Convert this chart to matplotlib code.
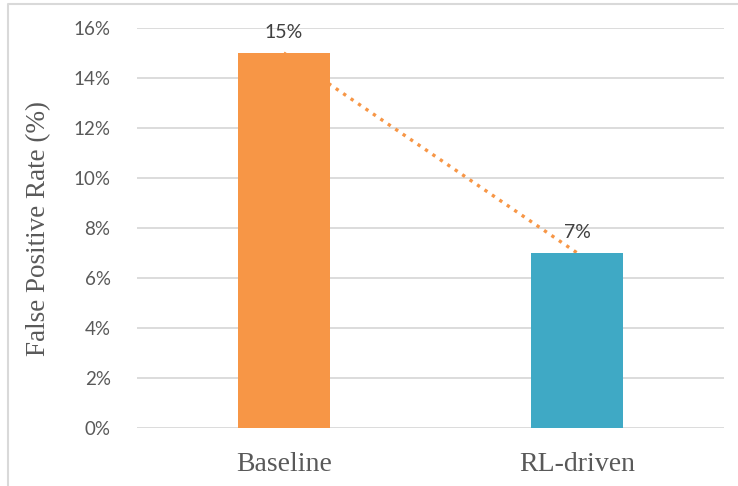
import matplotlib
matplotlib.use("Agg")
import matplotlib.pyplot as plt
from matplotlib.lines import Line2D
from matplotlib.ticker import FuncFormatter

# data
categories = ["Baseline", "RL-driven"]
fpr = [15, 7]  # percent
bar_colors = ["#F79646", "#3FA9C5"]
yticks = [0, 2, 4, 6, 8, 10, 12, 14, 16]

TICK_FONT = ["Lato", "DejaVu Sans"]
SERIF = ["Liberation Serif", "DejaVu Serif"]
GREY = "#595959"

fig = plt.figure(figsize=(7.38, 4.86), dpi=100)
ax = fig.add_axes([137/738, 1-428/486, (724-137)/738, (428-28)/486])

x = list(range(len(categories)))
ax.plot(x, fpr, ls=(0, (1, 1.7)), color="#F79646", lw=2.4, zorder=1)
ax.bar(x, fpr, width=0.313, color=bar_colors, zorder=2)
for xi, v in zip(x, fpr):
    ax.text(xi, v + 0.5, f"{v}%", ha="center", va="bottom",
            fontsize=14, color="#404040", family=TICK_FONT)

ax.set_xlim(-0.5, 1.5)
ax.set_ylim(0, 16)
ax.set_yticks(yticks)
ax.yaxis.set_major_formatter(FuncFormatter(lambda v, _: f"{v:.0f}%"))
ax.grid(axis="y", color="#D9D9D9", lw=1.3, zorder=0)
ax.set_axisbelow(True)
for s in ax.spines.values():
    s.set_visible(False)
ax.tick_params(length=0)
ax.tick_params(axis="y", pad=19, labelsize=13.5, labelcolor=GREY)
ax.tick_params(axis="x", pad=17, labelsize=20, labelcolor=GREY)
for t in ax.get_yticklabels():
    t.set_family(TICK_FONT)
ax.set_xticks(x)
ax.set_xticklabels(categories, family=SERIF)
ax.set_ylabel("False Positive Rate (%)", fontsize=19.5, color=GREY,
              family=SERIF, labelpad=16)

# chart frame (top and left edges visible)
fig.add_artist(Line2D([8/738, 8/738, 1], [0, 1-4/486, 1-4/486],
                      transform=fig.transFigure, color="#D9D9D9", lw=1.5))

fig.savefig("out.png", dpi=100)
